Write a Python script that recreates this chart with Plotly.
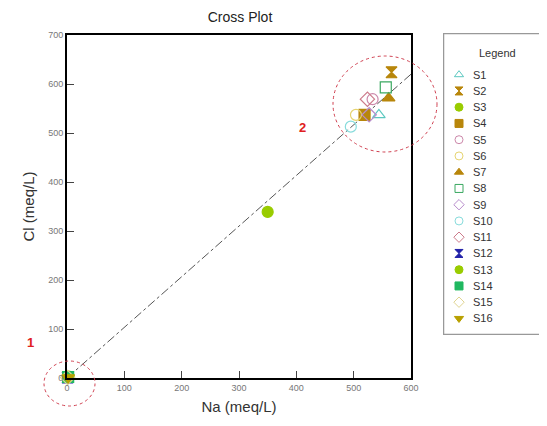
import plotly.graph_objects as go

names = ["S1","S2","S3","S4","S5","S6","S7","S8","S9","S10","S11","S12","S13","S14","S15","S16"]
na = [544, 566, 350, 519, 533, 504, 561, 556, 527, 495, 524, 1, 3, 2, 1, 2]
cl = [537, 624, 339, 537, 569, 537, 571, 593, 537, 513, 569, 1, 3, 2, 1, 1]
symbols = ["triangle-up-open","hourglass","circle","square","circle-open","circle-open",
           "triangle-up","square-open","diamond-open","circle-open","diamond-open",
           "hourglass","circle","square","diamond-open","triangle-down"]
colors = ["#5cc8c0","#b8860b","#99cc00","#b8860b","#cc88aa","#e6d470","#b8860b","#3aa860",
          "#b88ccc","#88dcdc","#cc7a8a","#2020a8","#99cc00","#20b860","#e0d490","#b8a000"]

line_x = [0, 600]
line_y = [0, 620]

# the page places the figure 8px in from the top-left corner
OFF = 8
W, H = 547, 426
L, R, T, B = 67 - OFF, 411 - OFF, 35 - OFF, 378 - OFF
MT = 18  # top margin of paper area
PW = W - L          # paper width (right margin 0)
PH = B - MT         # paper height

def px(x):  # reference pixel x -> paper
    return (x - OFF - L) / PW

def py(y):  # reference pixel y -> paper
    return (B - (y - OFF)) / PH

# legend box in reference pixels
LX0, LX1, LY0, LY1 = 443, 545, 33, 335
LBW, LBH = LX1 - LX0, LY1 - LY0
leg_first, leg_step = 41.7, 16.25
leg_y = [leg_first + i * leg_step for i in range(len(names))]
leg_x = [16] * len(names)

fig = go.Figure()
fig.add_trace(go.Scatter(x=line_x, y=line_y, mode="lines", showlegend=False,
                         line=dict(color="#555555", width=1, dash="dashdot"), hoverinfo="skip"))
for n, x, y, s, c in zip(names, na, cl, symbols, colors):
    fig.add_trace(go.Scatter(x=[x], y=[y], mode="markers", name=n, cliponaxis=False, showlegend=False,
                             marker=dict(symbol=s, color=c, size=11,
                                         line=dict(color=c, width=1.2))))

# custom legend
fig.add_trace(go.Scatter(x=leg_x, y=leg_y, mode="markers", xaxis="x2", yaxis="y2", showlegend=False,
                         cliponaxis=False, hoverinfo="skip",
                         marker=dict(symbol=symbols, color=colors, size=8,
                                     line=dict(color=colors, width=1))))

annotations = [
    dict(text="<b>1</b>", x=px(25), y=py(352), xref="paper", yref="paper", showarrow=False,
         font=dict(size=13, color="#e02020")),
    dict(text="<b>2</b>", x=px(302), y=py(118), xref="paper", yref="paper", showarrow=False,
         font=dict(size=13, color="#e02020")),
    dict(text="Legend", x=54, y=20, xref="x2", yref="y2", showarrow=False,
         font=dict(size=11, color="#333")),
]
for n, yy in zip(names, leg_y):
    annotations.append(dict(text=n, x=28, y=yy, xref="x2", yref="y2", showarrow=False,
                            xanchor="left", yanchor="middle", font=dict(size=11, color="#333")))

shapes = [
    dict(type="circle", xref="paper", yref="paper", x0=px(44), x1=px(95), y0=py(406), y1=py(361),
         line=dict(color="#d04050", width=1, dash="dot")),
    dict(type="circle", xref="paper", yref="paper", x0=px(333), x1=px(437), y0=py(152), y1=py(56),
         line=dict(color="#d04050", width=1, dash="dot")),
    dict(type="rect", xref="x2", yref="y2", x0=0.5, x1=LBW - 1, y0=0.5, y1=LBH - 0.5,
         line=dict(color="#999", width=1.5), layer="below"),
]

axis_common = dict(showgrid=False, zeroline=False, showline=True, linecolor="black", linewidth=2,
                   mirror=True, ticks="inside", ticklen=7, tickcolor="#444", tickwidth=1,
                   tickfont=dict(size=9, color="#777"), automargin=False)

fig.update_layout(
    width=W, height=H,
    margin=dict(l=L, r=0, t=MT, b=H - B, autoexpand=False),
    paper_bgcolor="white", plot_bgcolor="white",
    title=dict(text="Cross Plot", x=(240 - OFF) / W, xanchor="center", y=1 - 4 / H,
               yanchor="top", font=dict(family="Liberation Sans, Arial", size=14, color="#222")),
    font=dict(family="Liberation Sans, Arial", color="#222"),
    xaxis=dict(domain=[0, (R - L) / PW], range=[0, 600], tickvals=[0, 100, 200, 300, 400, 500, 600],
               title=dict(text="Na (meq/L)", font=dict(size=15, color="#333"), standoff=10),
               **axis_common),
    yaxis=dict(domain=[0, (B - T) / PH], range=[0, 700],
               tickvals=[0, 100, 200, 300, 400, 500, 600, 700],
               title=dict(text="Cl (meq/L)", font=dict(size=15, color="#333"), standoff=10),
               **axis_common),
    xaxis2=dict(domain=[px(LX0), min(1, px(LX1))], range=[0, LBW], visible=False, fixedrange=True),
    yaxis2=dict(domain=[py(LY1), py(LY0)], range=[LBH, 0], visible=False, fixedrange=True),
    shapes=shapes,
    annotations=annotations,
    showlegend=False,
)

fig.write_html("out.html")
